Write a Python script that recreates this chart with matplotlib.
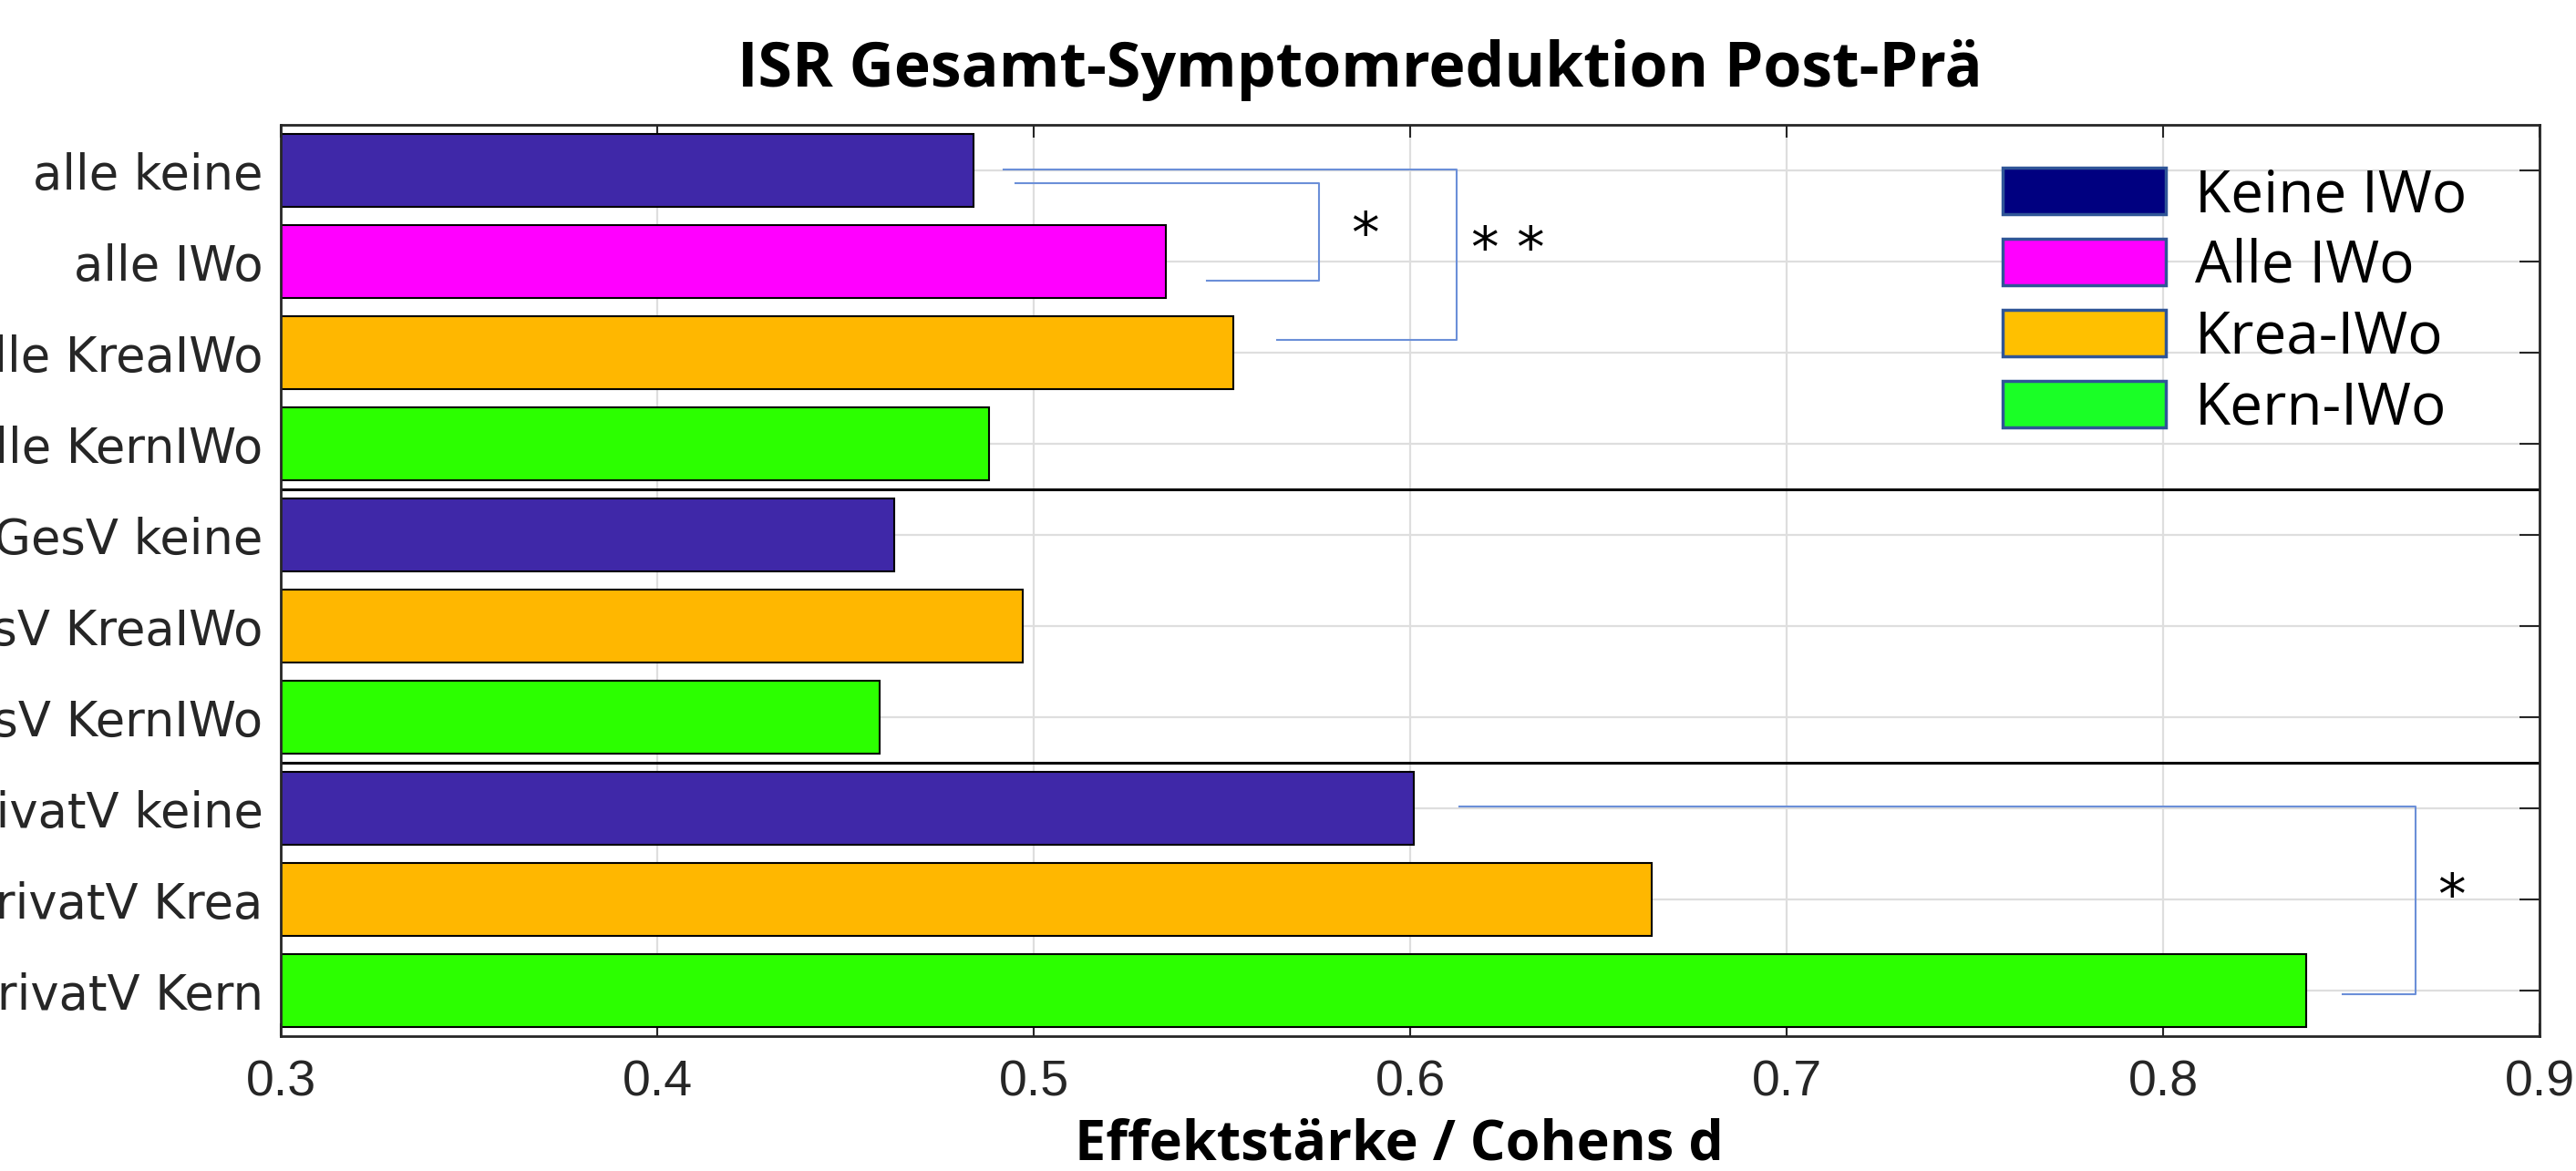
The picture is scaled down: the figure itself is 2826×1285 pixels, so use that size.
import numpy as np
import matplotlib.pyplot as plt
from matplotlib.patches import Patch

# Daten
labels = ['alle keine', 'alle IWo', 'alle KreaIWo', 'alle KernIWo',
          'GesV keine', 'GesV KreaIWo', 'GesV KernIWo',
          'PrivatV keine', 'PrivatV Krea', 'PrivatV Kern']
values = [0.484, 0.535, 0.553, 0.488, 0.463, 0.497, 0.459, 0.601, 0.664, 0.838]
groups = ['keine', 'alle', 'krea', 'kern', 'keine', 'krea', 'kern', 'keine', 'krea', 'kern']

legend_labels = ['Keine IWo', 'Alle IWo', 'Krea-IWo', 'Kern-IWo']
xticks = [0.3, 0.4, 0.5, 0.6, 0.7, 0.8, 0.9]

bar_col = {'keine': '#3f28a8', 'alle': '#ff00ff', 'krea': '#ffb700', 'kern': '#2cff00'}
leg_col = ['#000080', '#ff00ff', '#ffc000', '#1aff26']

# Signifikanz-Klammern: (y oben, x oben, y unten, x unten, x senkrecht, text, text x, text y)
brackets = [
    (1.14, 0.495, 2.21, 0.546, 0.5757, '*', 0.588, 1.72),
    (0.99, 0.492, 2.86, 0.5645, 0.6124, '* *', 0.626, 1.88),
    (7.98, 0.613, 10.04, 0.8477, 0.867, '*', 0.8765, 8.98),
]

fig = plt.figure(figsize=(28.26, 12.85), dpi=100)
ax = fig.add_axes([0.109, 0.115, 0.877, 0.778])

y = np.arange(1, len(values) + 1)

# Gitter manuell unter die Balken
for xt in xticks:
    ax.axvline(xt, color='#dedede', lw=1.6, zorder=0)
for yy in y:
    ax.axhline(yy, color='#dedede', lw=1.6, zorder=0)

ax.barh(y, values, height=0.8, color=[bar_col[g] for g in groups],
        edgecolor='black', linewidth=1.5, zorder=2)

# Trennlinien zwischen Gruppen
ax.axhline(4.5, color='black', lw=2.2, zorder=3)
ax.axhline(7.5, color='black', lw=2.2, zorder=3)

for yt, xt0, yb, xb0, xv, txt, tx, ty in brackets:
    ax.plot([xt0, xv, xv, xb0], [yt, yt, yb, yb], color='#6b8fd8', lw=1.5,
            zorder=4, clip_on=False)
    ax.text(tx, ty, txt, fontsize=44, family='DejaVu Sans', ha='center',
            va='center', zorder=5)

ax.set_xlim(0.3, 0.9)
ax.set_ylim(10.5, 0.5)
ax.set_xticks(xticks)
ax.set_xticklabels(['0.3', '0.4', '0.5', '0.6', '0.7', '0.8', '0.9'],
                   family='Liberation Sans', fontsize=40)
ax.set_yticks(y)
ax.set_yticklabels(labels, family='DejaVu Sans', fontsize=38)

ax.tick_params(axis='both', direction='in', top=True, right=True,
               colors='#262626', width=1.5, zorder=6)
ax.tick_params(axis='x', length=10, pad=18)
ax.tick_params(axis='y', length=16, pad=14)
for sp in ax.spines.values():
    sp.set_color('#262626')
    sp.set_linewidth(2)
    sp.set_zorder(6)

handles = [Patch(facecolor=c, edgecolor='#2f5597', linewidth=2.5) for c in leg_col]
ax.legend(handles, legend_labels, loc='upper left', bbox_to_anchor=(0.752, 0.98),
          frameon=False, prop={'family': 'Open Sans', 'size': 46},
          handlelength=2.8, handleheight=0.85, labelspacing=0.215,
          handletextpad=0.5, borderaxespad=0)

fig.text(0.528, 0.94, 'ISR Gesamt-Symptomreduktion Post-Prä', ha='center',
         va='center', fontsize=49, fontweight='bold', family='Open Sans')
fig.text(0.543, 0.022, 'Effektstärke / Cohens d', ha='center', va='center',
         fontsize=44, fontweight='bold', family='Open Sans')

fig.savefig('out.png', dpi=100)
